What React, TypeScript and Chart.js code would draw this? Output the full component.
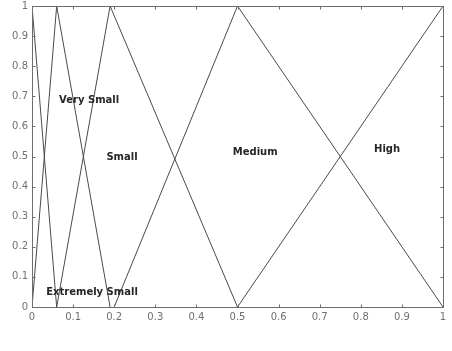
import React, { useEffect, useRef } from "react";
import { Chart, registerables } from "chart.js";

Chart.register(...registerables);

// Membership functions (x = input, y = membership degree)
const extremelySmallX = [0, 0.06];
const extremelySmallY = [1, 0];
const verySmallX = [0, 0.06, 0.19];
const verySmallY = [0, 1, 0];
const smallX = [0.06, 0.19, 0.5];
const smallY = [0, 1, 0];
const mediumX = [0.2, 0.5, 1];
const mediumY = [0, 1, 0];
const highX = [0.5, 1];
const highY = [0, 1];

const xTicks = [0, 0.1, 0.2, 0.3, 0.4, 0.5, 0.6, 0.7, 0.8, 0.9, 1];
const yTicks = [0, 0.1, 0.2, 0.3, 0.4, 0.5, 0.6, 0.7, 0.8, 0.9, 1];

const labelTexts = ["Very Small", "Small", "Medium", "High", "Extremely Small"];
const labelX = [0.139, 0.219, 0.543, 0.864, 0.146];
const labelY = [0.688, 0.498, 0.512, 0.525, 0.05];

const toPoints = (xs: number[], ys: number[]) => xs.map((x, i) => ({ x, y: ys[i] }));

const fmt = (v: number) => String(Number(v.toFixed(1)));

const framePlugin = {
  id: "matlabFrame",
  afterDraw(chart: any) {
    const { ctx, chartArea, scales } = chart;
    const xs = scales.x;
    const ys = scales.y;
    ctx.save();
    ctx.strokeStyle = "#6e6e6e";
    ctx.lineWidth = 1;
    const l = Math.round(chartArea.left) + 0.5;
    const r = Math.round(chartArea.right) + 0.5;
    const t = Math.round(chartArea.top) + 0.5;
    const b = Math.round(chartArea.bottom) + 0.5;
    ctx.strokeRect(l, t, r - l, b - t);
    const tl = 3;
    ctx.beginPath();
    xTicks.forEach((v) => {
      const px = Math.round(xs.getPixelForValue(v)) + 0.5;
      ctx.moveTo(px, b);
      ctx.lineTo(px, b - tl);
      ctx.moveTo(px, t);
      ctx.lineTo(px, t + tl);
    });
    yTicks.forEach((v) => {
      const py = Math.round(ys.getPixelForValue(v)) + 0.5;
      ctx.moveTo(l, py);
      ctx.lineTo(l + tl, py);
      ctx.moveTo(r, py);
      ctx.lineTo(r - tl, py);
    });
    ctx.stroke();

    ctx.fillStyle = "#262626";
    ctx.font = "bold 10px 'DejaVu Sans'";
    ctx.textAlign = "center";
    ctx.textBaseline = "middle";
    labelTexts.forEach((txt, i) => {
      ctx.fillText(txt, xs.getPixelForValue(labelX[i]), ys.getPixelForValue(labelY[i]));
    });
    ctx.restore();
  },
};

export default function App() {
  const canvasRef = useRef<HTMLCanvasElement | null>(null);

  useEffect(() => {
    if (!canvasRef.current) return;
    const lineStyle = {
      showLine: true,
      borderColor: "#4a4a4a",
      borderWidth: 1,
      pointRadius: 0,
      fill: false,
      tension: 0,
    };
    const chart = new Chart(canvasRef.current, {
      type: "scatter",
      data: {
        datasets: [
          { label: "Extremely Small", data: toPoints(extremelySmallX, extremelySmallY), ...lineStyle },
          { label: "Very Small", data: toPoints(verySmallX, verySmallY), ...lineStyle },
          { label: "Small", data: toPoints(smallX, smallY), ...lineStyle },
          { label: "Medium", data: toPoints(mediumX, mediumY), ...lineStyle },
          { label: "High", data: toPoints(highX, highY), ...lineStyle },
        ],
      },
      options: {
        animation: false,
        responsive: false,
        devicePixelRatio: 1,
        layout: { padding: { top: 0, right: 9, left: 0, bottom: 0 } },
        plugins: {
          legend: { display: false },
          tooltip: { enabled: false },
        },
        scales: {
          x: {
            type: "linear",
            min: 0,
            max: 1,
            grid: { display: false, drawTicks: false },
            border: { display: false },
            afterBuildTicks: (scale: any) => {
              scale.ticks = xTicks.map((v) => ({ value: v }));
            },
            afterFit: (scale: any) => {
              scale.height = 44;
            },
            ticks: {
              color: "#707070",
              padding: 4,
              maxRotation: 0,
              autoSkip: false,
              font: { family: "'DejaVu Sans'", size: 10 },
              callback: (v: any) => fmt(Number(v)),
            },
          },
          y: {
            type: "linear",
            min: 0,
            max: 1,
            grid: { display: false, drawTicks: false },
            border: { display: false },
            afterBuildTicks: (scale: any) => {
              scale.ticks = yTicks.map((v) => ({ value: v }));
            },
            afterFit: (scale: any) => {
              scale.width = 32;
              scale.paddingTop = 6;
            },
            ticks: {
              color: "#707070",
              padding: 4,
              autoSkip: false,
              font: { family: "'DejaVu Sans'", size: 10 },
              callback: (v: any) => fmt(Number(v)),
            },
          },
        },
      },
      plugins: [framePlugin],
    });
    return () => chart.destroy();
  }, []);

  return (
    <div style={{ position: "fixed", left: 0, top: 0, width: 452, height: 351, background: "#ffffff" }}>
      <canvas ref={canvasRef} width={452} height={351} style={{ display: "block" }} />
    </div>
  );
}
